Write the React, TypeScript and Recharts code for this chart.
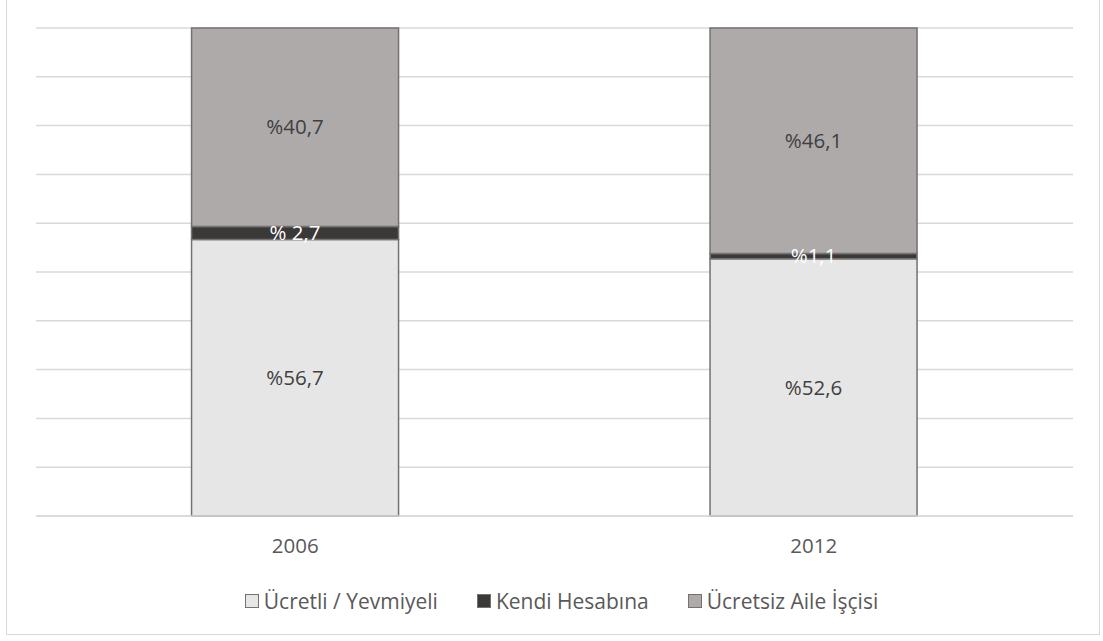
import React from "react";
import { BarChart, Bar, XAxis, YAxis, CartesianGrid, Legend, LabelList } from "recharts";

const years = ["2006", "2012"];
const ucretli = [56.7, 52.6];
const kendi = [2.7, 1.1];
const ucretsiz = [40.7, 46.1];
const ucretliLabels = ["%56,7", "%52,6"];
const kendiLabels = ["% 2,7", "%1,1"];
const ucretsizLabels = ["%40,7", "%46,1"];
const seriesNames = ["Ücretli / Yevmiyeli", "Kendi Hesabına", "Ücretsiz Aile İşçisi"];
const yTicks = [0, 0.1, 0.2, 0.3, 0.4, 0.5, 0.6, 0.7, 0.8, 0.9, 1];

const colors = ["#E7E6E6", "#3B3838", "#AEAAAA"];
const FONT = "'Open Sans', 'Liberation Sans', sans-serif";
const FS = 20.5;

const data = years.map((y, i) => ({
  year: y,
  a: ucretli[i],
  b: kendi[i],
  c: ucretsiz[i],
  aL: ucretliLabels[i],
  bL: kendiLabels[i],
  cL: ucretsizLabels[i],
}));

const LegendContent = () => (
  <div
    style={{
      display: "flex",
      justifyContent: "center",
      alignItems: "center",
      height: 30,
      fontFamily: FONT,
      fontSize: 21,
      color: "#595959",
      paddingLeft: 14,
    }}
  >
    {seriesNames.map((n, i) => (
      <div key={n} style={{ display: "flex", alignItems: "center", marginRight: i < 2 ? 39 : 0 }}>
        <span
          style={{
            width: 12,
            height: 12,
            background: colors[i],
            border: "1px solid #767171",
            display: "inline-block",
            marginRight: 5,
          }}
        />
        <span>{n}</span>
      </div>
    ))}
  </div>
);

export default function App() {
  return (
    <div style={{ position: "fixed", left: 0, top: 0, width: 1103, height: 641, background: "#fff" }}>
      <div
        style={{
          position: "absolute",
          left: 6,
          top: -2,
          width: 1094,
          height: 637,
          border: "1px solid #D9D9D9",
          boxSizing: "border-box",
        }}
      />
      <div style={{ position: "absolute", left: 0, top: 0 }}>
        <BarChart
          width={1103}
          height={641}
          data={data}
          stackOffset="expand"
          barCategoryGap="30%"
          margin={{ top: 28, right: 30, left: 36, bottom: 25 }}
        >
          <CartesianGrid vertical={false} stroke="#D9D9D9" strokeWidth={1.5} />
          <XAxis
            dataKey="year"
            height={70}
            axisLine={{ stroke: "#D9D9D9", strokeWidth: 1.5 }}
            tickLine={false}
            tickMargin={16}
            tick={{ fill: "#595959", fontSize: FS, fontFamily: FONT }}
          />
          <YAxis hide domain={[0, 1]} ticks={yTicks} />
          <Legend verticalAlign="bottom" height={30} content={<LegendContent />} />
          <Bar dataKey="a" name={seriesNames[0]} stackId="s" fill={colors[0]} stroke="#767171" strokeWidth={1.5} isAnimationActive={false}>
            <LabelList dataKey="aL" position="center" fill="#404040" style={{ fontSize: FS, fontFamily: FONT }} />
          </Bar>
          <Bar dataKey="b" name={seriesNames[1]} stackId="s" fill={colors[1]} stroke="#767171" strokeWidth={1.5} isAnimationActive={false}>
            <LabelList dataKey="bL" position="center" fill="#FFFFFF" style={{ fontSize: FS, fontFamily: FONT }} />
          </Bar>
          <Bar dataKey="c" name={seriesNames[2]} stackId="s" fill={colors[2]} stroke="#767171" strokeWidth={1.5} isAnimationActive={false}>
            <LabelList dataKey="cL" position="center" fill="#404040" style={{ fontSize: FS, fontFamily: FONT }} />
          </Bar>
        </BarChart>
      </div>
    </div>
  );
}
